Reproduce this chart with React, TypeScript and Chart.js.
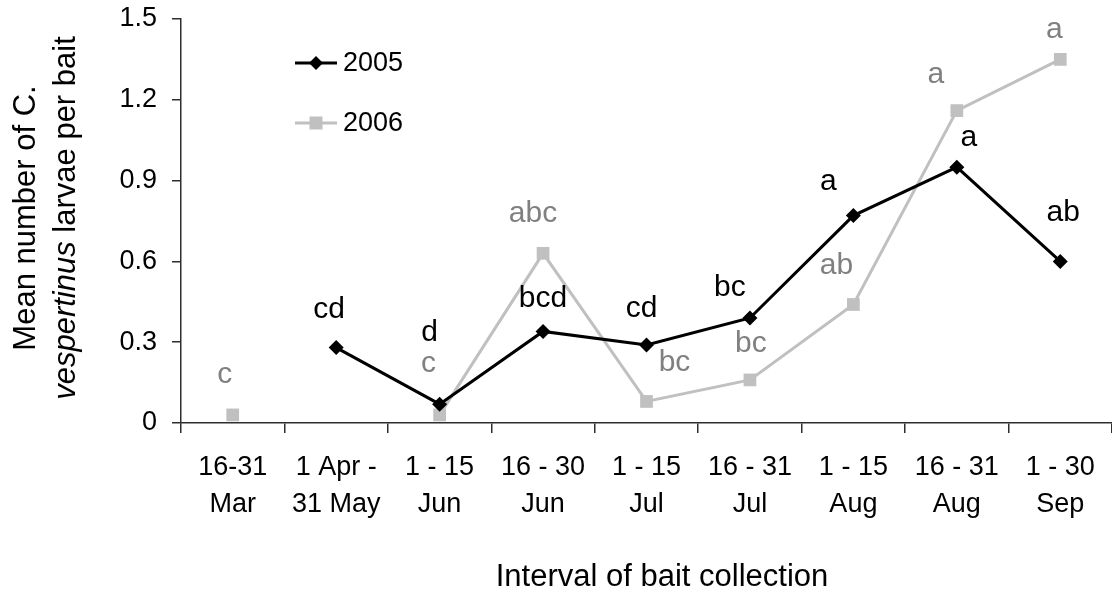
import React, { useEffect, useRef } from 'react';
import { Chart, registerables } from 'chart.js';

Chart.register(...registerables);

// Bait collection intervals (two-line tick labels)
const categories: string[][] = [
  ['16-31', 'Mar'],
  ['1 Apr -', '31 May'],
  ['1 - 15', 'Jun'],
  ['16 - 30', 'Jun'],
  ['1 - 15', 'Jul'],
  ['16 - 31', 'Jul'],
  ['1 - 15', 'Aug'],
  ['16 - 31', 'Aug'],
  ['1 - 30', 'Sep'],
];

// Mean number of larvae per bait
const series2005: (number | null)[] = [null, 0.28, 0.07, 0.34, 0.29, 0.39, 0.77, 0.95, 0.6];
const series2006: (number | null)[] = [0.03, null, 0.03, 0.63, 0.08, 0.16, 0.44, 1.16, 1.35];

// Significance letters for each interval
const letters2005 = ['', 'cd', 'd', 'bcd', 'cd', 'bc', 'a', 'a', 'ab'];
const letters2006 = ['c', '', 'c', 'abc', 'bc', 'bc', 'ab', 'a', 'a'];

const yTicks = [0, 0.3, 0.6, 0.9, 1.2, 1.5];

// Letter placement relative to its point (px): [dx, baseline dy]
const letterOffsets2005: number[][] = [
  [0, 0], [-7, -30], [-10, -63], [0, -24], [-5, -28], [-20, -22], [-25, -26], [12, -21], [3, -40],
];
const letterOffsets2006: number[][] = [
  [-8, -32], [0, 0], [-11, -43], [-10, -31], [28, -30], [1, -28], [-17, -30], [-21, -28], [-6, -21],
];

const FONT = "'Liberation Sans', Arial, Helvetica, sans-serif";
const AXIS_COLOR = '#2e2e2e';
const BLACK = '#000000';
const LIGHT = '#c0c0c0';
const LETTER_GREY = '#808080';

const annotations = {
  id: 'annotations',
  afterDatasetsDraw(chart: any) {
    const ctx = chart.ctx as CanvasRenderingContext2D;
    const sets = [
      { letters: letters2005, offsets: letterOffsets2005, color: BLACK },
      { letters: letters2006, offsets: letterOffsets2006, color: LETTER_GREY },
    ];
    ctx.save();
    ctx.font = `30px ${FONT}`;
    ctx.textAlign = 'center';
    ctx.textBaseline = 'alphabetic';
    sets.forEach((s, di) => {
      const meta = chart.getDatasetMeta(di);
      ctx.fillStyle = s.color;
      s.letters.forEach((txt, i) => {
        if (!txt) return;
        const el = meta.data[i];
        if (!el || el.skip) return;
        const [dx, dy] = s.offsets[i];
        ctx.fillText(txt, el.x + dx, el.y + dy);
      });
    });
    ctx.restore();
  },
  afterDraw(chart: any) {
    const ctx = chart.ctx as CanvasRenderingContext2D;
    const area = chart.chartArea;

    // Legend in the upper left of the plot
    ctx.save();
    const legendRows = [63, 123];
    chart.data.datasets.forEach((ds: any, i: number) => {
      const y = legendRows[i];
      ctx.strokeStyle = ds.borderColor;
      ctx.lineWidth = ds.borderWidth;
      ctx.beginPath();
      ctx.moveTo(295, y);
      ctx.lineTo(337, y);
      ctx.stroke();
      ctx.fillStyle = ds.pointBackgroundColor;
      ctx.beginPath();
      if (ds.pointStyle === 'rectRot') {
        const r = 7;
        ctx.moveTo(316, y - r);
        ctx.lineTo(316 + r, y);
        ctx.lineTo(316, y + r);
        ctx.lineTo(316 - r, y);
        ctx.closePath();
      } else {
        ctx.rect(316 - 6.5, y - 6.5, 13, 13);
      }
      ctx.fill();
      ctx.fillStyle = BLACK;
      ctx.font = `27px ${FONT}`;
      ctx.textAlign = 'left';
      ctx.textBaseline = 'middle';
      ctx.fillText(ds.label, 343, y + 1);
    });
    ctx.restore();

    // X axis title
    ctx.save();
    ctx.fillStyle = BLACK;
    ctx.font = `31px ${FONT}`;
    ctx.textAlign = 'center';
    ctx.textBaseline = 'alphabetic';
    ctx.fillText('Interval of bait collection', 662, 586);
    ctx.restore();

    // Y axis title, two lines with italic species name
    ctx.save();
    const cy = (area.top + area.bottom) / 2 - 3;
    ctx.translate(0, cy);
    ctx.rotate(-Math.PI / 2);
    ctx.fillStyle = BLACK;
    ctx.textBaseline = 'middle';
    ctx.textAlign = 'left';
    const regular = `31px ${FONT}`;
    const italic = `italic 31px ${FONT}`;
    ctx.font = regular;
    const line1 = 'Mean number of C.';
    const w1 = ctx.measureText(line1).width;
    ctx.fillText(line1, -w1 / 2, 26);
    const partA = 'vespertinus';
    const partB = ' larvae per bait';
    ctx.font = italic;
    const wa = ctx.measureText(partA).width;
    ctx.font = regular;
    const wb = ctx.measureText(partB).width;
    const start = -(wa + wb) / 2;
    ctx.font = italic;
    ctx.fillText(partA, start, 66);
    ctx.font = regular;
    ctx.fillText(partB, start + wa, 66);
    ctx.restore();
  },
};

export default function App() {
  const canvasRef = useRef<HTMLCanvasElement | null>(null);

  useEffect(() => {
    document.body.style.margin = '0';
    const canvas = canvasRef.current;
    if (!canvas) return;

    const chart = new Chart(canvas, {
      type: 'line',
      data: {
        labels: categories,
        datasets: [
          {
            label: '2005',
            data: series2005,
            borderColor: BLACK,
            backgroundColor: BLACK,
            borderWidth: 3,
            pointStyle: 'rectRot',
            pointRadius: 7.5,
            pointBackgroundColor: BLACK,
            pointBorderColor: BLACK,
            pointBorderWidth: 0,
            spanGaps: false,
            tension: 0,
          },
          {
            label: '2006',
            data: series2006,
            borderColor: LIGHT,
            backgroundColor: LIGHT,
            borderWidth: 3,
            pointStyle: 'rect',
            pointRadius: 9,
            pointBackgroundColor: LIGHT,
            pointBorderColor: LIGHT,
            pointBorderWidth: 0,
            spanGaps: false,
            tension: 0,
          },
        ],
      },
      options: {
        responsive: false,
        animation: false,
        devicePixelRatio: 1,
        layout: { autoPadding: false, padding: { top: 19, right: 0, bottom: 0, left: 0 } },
        plugins: {
          legend: { display: false },
          tooltip: { enabled: false },
        },
        scales: {
          x: {
            type: 'category',
            offset: true,
            grid: {
              offset: true,
              drawOnChartArea: false,
              drawTicks: true,
              tickLength: 10,
              color: AXIS_COLOR,
              lineWidth: 1.5,
            },
            border: { display: true, color: AXIS_COLOR, width: 1.5 },
            ticks: {
              color: BLACK,
              padding: 16,
              maxRotation: 0,
              autoSkip: false,
              font: { family: FONT, size: 27, lineHeight: 37 / 27 },
            },
            afterFit(scale: any) {
              scale.height = 171;
              scale.paddingLeft = 0;
              scale.paddingRight = 0;
            },
          },
          y: {
            min: 0,
            max: 1.5,
            afterBuildTicks(scale: any) {
              scale.ticks = yTicks.map((v) => ({ value: v }));
            },
            grid: {
              drawOnChartArea: false,
              drawTicks: true,
              tickLength: 9,
              color: AXIS_COLOR,
              lineWidth: 1.5,
            },
            border: { display: true, color: AXIS_COLOR, width: 1.5 },
            ticks: {
              color: BLACK,
              padding: 15,
              font: { family: FONT, size: 27 },
              callback: (v: any) => String(Number(Number(v).toFixed(1))),
            },
            afterFit(scale: any) {
              scale.width = 181;
              scale.paddingTop = 0;
              scale.paddingBottom = 0;
            },
          },
        },
      },
      plugins: [annotations],
    });

    return () => chart.destroy();
  }, []);

  return (
    <div style={{ width: 1112, height: 594, position: 'relative' }}>
      <canvas ref={canvasRef} width={1112} height={594} style={{ display: 'block' }} />
    </div>
  );
}
